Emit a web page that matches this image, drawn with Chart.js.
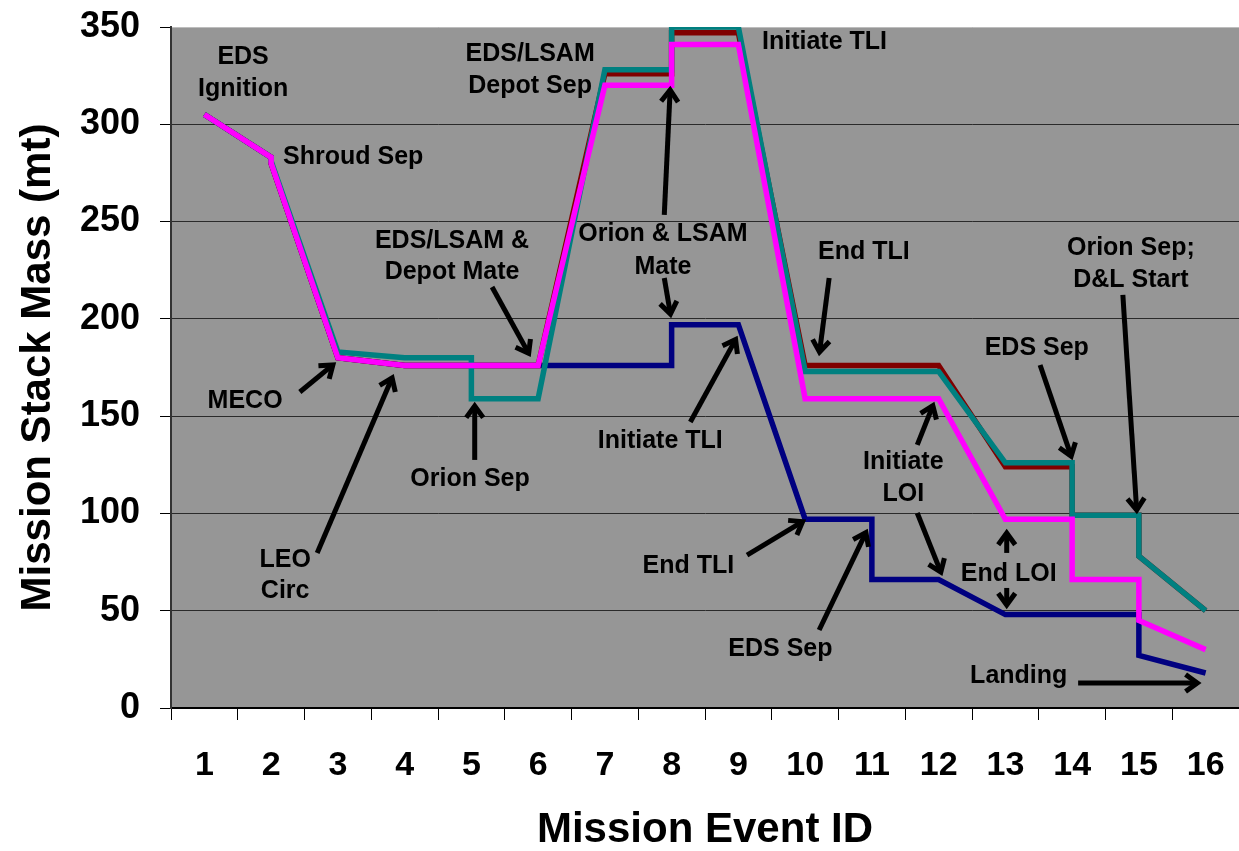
<!DOCTYPE html>
<html>
<head>
<meta charset="utf-8">
<script src="https://cdn.jsdelivr.net/npm/chart.js@4"></script>
<style>
  body { margin: 0; background: #fff; }
  #wrap { width: 1239px; height: 851px; }
</style>
</head>
<body>
<div id="wrap"><canvas id="chart"></canvas></div>
<script>
// mission events on the x axis
const categories = ['1', '2', '3', '4', '5', '6', '7', '8', '9', '10', '11', '12', '13', '14', '15', '16'];
const massTicks = [0, 50, 100, 150, 200, 250, 300, 350];

// each series: event id (repeated where the mass steps) and stack mass in mt
const magentaEvent = [1, 2, 2, 3, 4, 6, 7, 8, 8, 9, 10, 12, 13, 14, 14, 15, 15, 16];
const magentaMass  = [305, 283, 280, 180, 176, 176, 320, 320, 341, 341, 159, 159, 97, 97, 66, 66, 45, 30];

const tealEvent = [1, 2, 2, 3, 4, 5, 5, 6, 7, 8, 8, 9, 10, 12, 13, 14, 14, 15, 15, 16];
const tealMass  = [305, 283, 281, 183, 180, 180, 159, 159, 328, 328, 350, 350, 173, 173, 126, 126, 99, 99, 78, 50];

const maroonEvent = [1, 2, 2, 3, 4, 6, 7, 8, 8, 9, 10, 12, 13, 14, 14, 15, 15, 16];
const maroonMass  = [305, 283, 280, 180, 176, 176, 326, 326, 347, 347, 176, 176, 124, 124, 99, 99, 78, 50];

const navyEvent = [1, 2, 2, 3, 4, 6, 8, 8, 9, 10, 11, 11, 12, 13, 15, 15, 16];
const navyMass  = [305, 283, 280, 180, 176, 176, 176, 197, 197, 97, 97, 66, 66, 48, 48, 27, 18];

// callout texts, placed in axis units (event id, mt)
const notes = [
  { text: 'EDS', x: 1.58, y: 334.6 },
  { text: 'Ignition', x: 1.58, y: 318.1 },
  { text: 'Shroud Sep', x: 3.23, y: 282.9 },
  { text: 'EDS/LSAM', x: 5.88, y: 336.1 },
  { text: 'Depot Sep', x: 5.88, y: 319.7 },
  { text: 'Initiate TLI', x: 10.29, y: 342.0 },
  { text: 'EDS/LSAM &', x: 4.71, y: 240.0 },
  { text: 'Depot Mate', x: 4.71, y: 224.1 },
  { text: 'Orion & LSAM', x: 7.87, y: 243.6 },
  { text: 'Mate', x: 7.87, y: 226.6 },
  { text: 'End TLI', x: 10.88, y: 234.1 },
  { text: 'Orion Sep;', x: 14.88, y: 236.4 },
  { text: 'D&L Start', x: 14.88, y: 220.0 },
  { text: 'EDS Sep', x: 13.47, y: 185.0 },
  { text: 'Initiate', x: 11.47, y: 126.2 },
  { text: 'LOI', x: 11.47, y: 110.0 },
  { text: 'End LOI', x: 13.05, y: 68.9 },
  { text: 'Landing', x: 13.20, y: 16.4 },
  { text: 'EDS Sep', x: 9.63, y: 30.3 },
  { text: 'End TLI', x: 8.25, y: 73.0 },
  { text: 'Initiate TLI', x: 7.83, y: 137.2 },
  { text: 'Orion Sep', x: 4.98, y: 117.7 },
  { text: 'MECO', x: 1.61, y: 157.8 },
  { text: 'LEO', x: 2.21, y: 75.8 },
  { text: 'Circ', x: 2.21, y: 60.1 }
];

// arrows: from (x1,y1) to the head at (x2,y2), axis units
const arrows = [
  [5.31, 216.4, 5.88, 180.9],
  [7.89, 253.4, 7.98, 319.2],
  [7.89, 221.0, 7.99, 201.0],
  [10.36, 221.0, 10.21, 181.4],
  [14.76, 212.3, 14.97, 100.2],
  [13.52, 176.3, 14.00, 128.0],
  [11.68, 135.2, 11.93, 156.8],
  [11.68, 100.2, 12.05, 68.4],
  [13.02, 79.7, 13.02, 91.5],
  [13.02, 61.7, 13.02, 51.4],
  [14.09, 12.8, 15.92, 12.8],
  [10.21, 40.1, 10.93, 91.5],
  [9.13, 78.6, 10.00, 96.6],
  [8.28, 147.0, 8.98, 190.7],
  [5.05, 127.5, 5.05, 156.8],
  [2.43, 162.4, 2.96, 177.3],
  [2.69, 79.7, 3.83, 171.1]
];

const FONT = '"Liberation Sans", Arial, sans-serif';

function pts(xs, ys) {
  return xs.map((x, i) => ({ x: x, y: ys[i] }));
}

function series(data, color) {
  return {
    data: data,
    xAxisID: 'xl',
    borderColor: color,
    backgroundColor: color,
    borderWidth: 5.5,
    borderJoinStyle: 'miter',
    pointRadius: 0,
    tension: 0,
    fill: false
  };
}

function noPadding(axis) {
  axis.paddingTop = 0;
  axis.paddingBottom = 0;
  axis.paddingLeft = 0;
  axis.paddingRight = 0;
}

const plotBackground = {
  id: 'plotBackground',
  beforeDraw(chart) {
    const a = chart.chartArea;
    const ctx = chart.ctx;
    ctx.save();
    ctx.fillStyle = '#969696';
    ctx.fillRect(a.left, a.top, a.right - a.left, a.bottom - a.top);
    ctx.restore();
  }
};

const callouts = {
  id: 'callouts',
  afterDatasetsDraw(chart) {
    const ctx = chart.ctx;
    const xs = chart.scales.xl;
    const ys = chart.scales.y;
    ctx.save();
    ctx.fillStyle = '#000';
    ctx.strokeStyle = '#000';
    ctx.font = 'bold 25px ' + FONT;
    ctx.textAlign = 'center';
    ctx.textBaseline = 'middle';
    notes.forEach(n => {
      ctx.fillText(n.text, xs.getPixelForValue(n.x), ys.getPixelForValue(n.y));
    });

    ctx.lineWidth = 5;
    ctx.lineCap = 'butt';
    ctx.lineJoin = 'miter';
    arrows.forEach(a => {
      const x1 = xs.getPixelForValue(a[0]), y1 = ys.getPixelForValue(a[1]);
      const x2 = xs.getPixelForValue(a[2]), y2 = ys.getPixelForValue(a[3]);
      const ang = Math.atan2(y2 - y1, x2 - x1);
      const len = 17, spread = Math.PI / 6;
      ctx.beginPath();
      ctx.moveTo(x1, y1);
      ctx.lineTo(x2 - 3 * Math.cos(ang), y2 - 3 * Math.sin(ang));
      ctx.stroke();
      ctx.beginPath();
      ctx.moveTo(x2 - len * Math.cos(ang - spread), y2 - len * Math.sin(ang - spread));
      ctx.lineTo(x2 - 3 * Math.cos(ang), y2 - 3 * Math.sin(ang));
      ctx.lineTo(x2 - len * Math.cos(ang + spread), y2 - len * Math.sin(ang + spread));
      ctx.stroke();
    });
    ctx.restore();
  }
};

new Chart(document.getElementById('chart'), {
  type: 'line',
  data: {
    labels: categories,
    datasets: [
      series(pts(magentaEvent, magentaMass), '#ff00ff'),
      series(pts(tealEvent, tealMass), '#008080'),
      series(pts(maroonEvent, maroonMass), '#800000'),
      series(pts(navyEvent, navyMass), '#000080')
    ]
  },
  options: {
    responsive: true,
    maintainAspectRatio: false,
    animation: false,
    layout: { padding: { top: 27, right: 0, bottom: 0, left: 0 } },
    plugins: {
      legend: { display: false },
      tooltip: { enabled: false }
    },
    scales: {
      x: {
        type: 'category',
        labels: categories,
        offset: true,
        afterFit(axis) { axis.height = 143; noPadding(axis); },
        grid: {
          offset: true,
          drawOnChartArea: false,
          tickLength: 12,
          color: '#000',
          lineWidth: 1
        },
        border: { display: true, color: '#000', width: 2 },
        ticks: {
          color: '#000',
          font: { family: FONT, size: 34, weight: 'bold' },
          padding: 25,
          maxRotation: 0,
          autoSkip: false
        },
        title: {
          display: true,
          text: 'Mission Event ID',
          color: '#000',
          font: { family: FONT, size: 42, weight: 'bold', lineHeight: 1 },
          padding: { top: 0, bottom: 0 }
        }
      },
      xl: {
        type: 'linear',
        display: false,
        min: 0.5,
        max: 16.5,
        afterFit: noPadding
      },
      y: {
        type: 'linear',
        min: 0,
        max: 350,
        afterFit(axis) { axis.width = 171; noPadding(axis); },
        afterBuildTicks(axis) { axis.ticks = massTicks.map(v => ({ value: v })); },
        grid: {
          color: c => (c.tick && c.tick.value === 350 ? '#bdbdbd' : '#2a2a2a'),
          tickColor: '#000',
          lineWidth: 1,
          tickLength: 11
        },
        border: { display: true, color: '#333', width: 2 },
        ticks: {
          color: '#000',
          font: { family: FONT, size: 36, weight: 'bold' },
          padding: 20
        },
        title: {
          display: true,
          text: 'Mission Stack Mass (mt)',
          color: '#000',
          font: { family: FONT, size: 42, weight: 'bold', lineHeight: 1 },
          padding: { top: 17, bottom: 0 }
        }
      }
    }
  },
  plugins: [plotBackground, callouts]
});
</script>
</body>
</html>
